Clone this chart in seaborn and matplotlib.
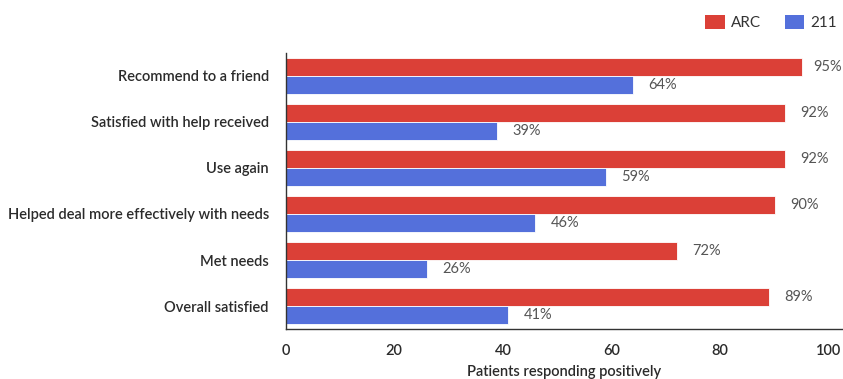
import matplotlib
matplotlib.use("Agg")
import matplotlib.pyplot as plt
import seaborn as sns
import pandas as pd
from matplotlib.patches import Patch

categories = ["Recommend to a friend", "Satisfied with help received", "Use again",
              "Helped deal more effectively with needs", "Met needs", "Overall satisfied"]
arc_values = [95, 92, 92, 90, 72, 89]
s211_values = [64, 39, 59, 46, 26, 41]
series_names = ["ARC", "211"]
x_ticks = [0, 20, 40, 60, 80, 100]
x_label = "Patients responding positively"

colors = ["#DB4037", "#5470DB"]

df = pd.DataFrame({
    "category": categories * 2,
    "value": arc_values + s211_values,
    "series": [series_names[0]] * len(categories) + [series_names[1]] * len(categories),
})

sns.set_style("white")
plt.rcParams['font.family'] = ['Lato', 'DejaVu Sans']
text_color = "#2b2b2b"

fig = plt.figure(figsize=(8.43, 3.79), dpi=100)
ax = fig.add_axes([0.3387, 0.1319, 0.6613, 0.7283])

sns.barplot(data=df, y="category", x="value", hue="series", orient="h",
            palette=colors, width=0.8, ax=ax, legend=False,
            edgecolor="#ffffff", linewidth=0.6, saturation=1)

texts = []
for cont in ax.containers:
    texts += ax.bar_label(cont, labels=[f"{int(round(v))}%" for v in cont.datavalues],
                          padding=11, fontsize=10.5, color="#555555")

ax.set_xlim(0, 102.6)
ax.set_xticks(x_ticks)
ax.set_xticklabels([str(t) for t in x_ticks], fontsize=10.5, fontweight="semibold", color=text_color)
ax.set_xlabel(x_label, fontsize=10.5, fontweight="semibold", color=text_color, labelpad=5)
ax.set_ylabel("")
ax.tick_params(axis="y", labelsize=10.5, colors=text_color, length=8, width=1, pad=4)
ax.tick_params(axis="x", colors=text_color, length=8, width=1, pad=3)
for lab in ax.get_yticklabels():
    lab.set_fontweight("semibold")
    lab.set_color(text_color)
for lab in ax.get_xticklabels():
    lab.set_color(text_color)

for side in ["top", "right"]:
    ax.spines[side].set_visible(False)
for side in ["left", "bottom"]:
    ax.spines[side].set_color("#333333")
    ax.spines[side].set_linewidth(1)

handles = [Patch(facecolor=c, edgecolor="none") for c in colors]
fig.legend(handles, series_names, loc="upper right", bbox_to_anchor=(1.004, 0.985),
           ncol=2, frameon=False, fontsize=11, handlelength=1.3, handleheight=1.0,
           columnspacing=1.55, handletextpad=0.4, labelcolor="#333333",
           borderaxespad=0.2)

# keep value labels inside the figure
fig.canvas.draw()
renderer = fig.canvas.get_renderer()
fig_w = fig.bbox.width
for t in texts:
    bb = t.get_window_extent(renderer)
    if bb.x1 > fig_w - 1:
        shift = bb.x1 - (fig_w - 1)
        if hasattr(t, "xyann"):
            off = t.xyann
            t.xyann = (off[0] - shift * 72 / fig.dpi, off[1])

fig.savefig("out.png", dpi=100)
